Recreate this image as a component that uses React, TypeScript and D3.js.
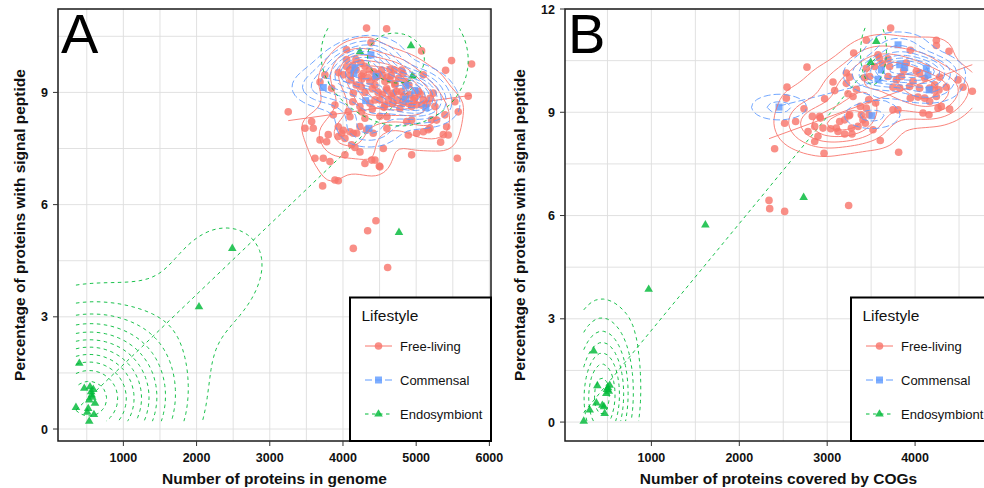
import React from "react";
import * as d3 from "d3";

type Pt = [number, number];

const lifestyles = ["Free-living", "Commensal", "Endosymbiont"];
const colours = ["#F8766D", "#619CFF", "#00BA38"];
const dashes = ["none", "7,3", "3.5,3.5"];

// ---------- Panel A: proteins in genome vs % signal peptide ----------
const aFreeLiving: Pt[] = [
  [4322, 10.72], [4596, 10.70], [4382, 10.33], [4049, 10.14], [5074, 10.11], [5483, 9.85], [5757, 9.76], [5402, 9.59],
  [4050, 9.88], [4177, 9.88], [4132, 9.73], [4245, 9.79], [3936, 9.53], [4095, 9.60], [4277, 9.51], [4255, 9.35],
  [4109, 9.33], [4345, 9.40], [4437, 9.38], [3686, 9.28], [3845, 9.11], [4141, 8.98], [4132, 8.75], [4437, 8.80],
  [5097, 9.47], [4642, 9.62], [4801, 9.60], [4528, 9.60], [4573, 9.29], [4710, 9.24], [4600, 9.06], [4733, 9.02],
  [4960, 8.80], [5188, 8.84], [5233, 8.98], [5711, 8.90], [5529, 8.75],
  [4573, 8.66], [4778, 8.57], [4938, 8.62], [5075, 8.66], [5256, 8.62], [5575, 8.48], [4600, 8.35], [4870, 8.22],
  [4938, 8.26], [5279, 8.26], [5188, 8.04], [5097, 7.95], [5006, 7.91], [4892, 7.86], [5416, 8.08], [5438, 7.86],
  [4600, 8.04], [5334, 7.67], [4551, 7.50], [4938, 7.33], [5562, 7.24], [4505, 7.01],
  [3252, 8.48], [3572, 8.22], [3481, 8.04], [3594, 8.04], [3890, 8.66], [3867, 8.40], [4095, 8.35], [4255, 8.48],
  [3936, 8.08], [4004, 7.99], [4095, 7.95], [3981, 7.91], [4187, 7.91], [3686, 7.73], [3777, 7.68], [3936, 7.82],
  [4027, 7.77], [4232, 7.41], [3617, 7.24], [3731, 7.24], [3822, 7.15], [4027, 7.33], [4300, 7.10], [4392, 7.19],
  [3890, 6.66], [3936, 6.64], [3722, 6.50], [4437, 7.19], [4496, 7.03],
  [4049, 9.69], [4004, 9.47], [4254, 9.44], [4459, 9.43], [4368, 9.29], [4436, 9.20], [4641, 9.34], [4709, 9.20],
  [4596, 9.11], [4800, 9.02], [4687, 8.98], [4823, 8.89], [4914, 8.94], [5028, 9.02], [5096, 8.80], [5005, 8.67],
  [4618, 8.80], [4505, 8.80], [4368, 8.71], [4231, 8.62], [4072, 8.49], [4300, 8.31], [4505, 8.36], [5210, 8.27],
  [5392, 8.40], [5370, 7.87], [5165, 8.00], [4413, 7.91], [4322, 8.00], [4231, 8.09], [4140, 7.91], [3799, 7.87],
  [3753, 9.47], [4163, 7.53], [4117, 7.60],
  // overplotted core
  [4420, 9.55], [4480, 9.50], [4540, 9.45], [4600, 9.40], [4660, 9.45], [4760, 9.38], [4850, 9.30], [4400, 9.10],
  [4480, 9.00], [4540, 8.95], [4660, 8.90], [4740, 8.80], [4820, 8.72], [4900, 8.70], [4980, 8.85], [5050, 8.95],
  [4300, 9.00], [4250, 9.15], [4180, 9.20], [4100, 9.45], [4180, 9.60], [4300, 9.70], [4360, 9.60], [4680, 8.70],
  [4560, 8.60], [4400, 8.55], [4700, 9.60], [4900, 9.20], [5150, 8.70], [4820, 9.50],
  [4450, 5.57], [4337, 5.30], [4141, 4.83], [4610, 4.32],
];
const aCommensal: Pt[] = [
  [4382, 10.0], [4150, 9.51], [4164, 9.66], [4451, 9.43], [3731, 9.13], [4856, 9.17], [4983, 9.05], [4310, 8.78],
  [4856, 8.82], [5133, 8.59], [4355, 8.04],
];
const aEndosymbiont: Pt[] = [
  [4232, 10.09], [4929, 10.25], [4948, 9.44], [4765, 5.26], [2488, 4.83], [2033, 3.27], [398, 1.76], [352, 0.58],
  [466, 1.09], [544, 1.13], [589, 1.06], [534, 0.78], [612, 0.69], [507, 0.45], [598, 0.39], [534, 0.21],
  [567, 0.91], [560, 1.0], [520, 0.55], [575, 0.85],
];

// ---------- Panel B: proteins covered by COGs vs % signal peptide ----------
const bFreeLiving: Pt[] = [
  [2770, 10.31], [2543, 9.73], [2535, 9.41], [2736, 9.10], [2516, 8.68], [2641, 8.73], [2402, 7.94], [2964, 7.81],
  [2338, 6.44], [2346, 6.20], [2516, 6.12], [3244, 6.29], [3604, 8.18], [3813, 7.84], [3722, 11.45], [3445, 11.09],
  [3301, 10.72], [3218, 10.14], [3256, 10.02], [3066, 9.88], [3085, 9.63], [2971, 9.39], [3237, 9.54], [3332, 9.67],
  [3294, 9.46], [3377, 9.17], [3445, 9.12], [3388, 8.93], [3521, 8.49], [3434, 8.68], [3351, 8.59], [3275, 8.54],
  [3199, 8.78], [3248, 8.90], [3142, 8.73], [3104, 8.54], [3040, 8.52], [2952, 8.54], [2858, 8.59], [2922, 8.83],
  [2831, 8.88], [2782, 8.44], [2895, 8.30], [2858, 8.15], [3199, 8.37], [3282, 8.37], [3407, 8.78], [3475, 8.93],
  [3748, 9.07], [3805, 9.07], [3551, 9.27], [3472, 9.36], [3483, 10.04], [3597, 10.57], [3692, 10.55], [3627, 10.41],
  [3578, 10.67], [3711, 10.33], [3540, 10.33], [3445, 10.28], [3426, 10.0], [3692, 10.04], [3787, 9.94], [3844, 10.04],
  [3870, 10.22], [3900, 10.43], [3946, 10.80], [3748, 9.73], [3825, 9.70], [3938, 9.75], [4014, 10.19], [4052, 10.14],
  [4109, 9.99], [3976, 9.90], [4052, 9.70], [4166, 9.70], [4223, 9.80], [4280, 10.02], [4204, 9.65], [4242, 9.46],
  [4272, 9.65], [4355, 9.73], [4488, 9.94], [4545, 9.73], [4651, 9.61], [4386, 10.77], [4242, 11.09], [4242, 10.94],
  [3946, 9.41], [4033, 9.44], [4109, 9.41], [4166, 9.31], [4261, 9.12], [4298, 9.17], [4090, 8.98], [4158, 8.93],
  [4393, 9.09], [2914, 8.88], [3123, 8.44], [3256, 8.93], [3218, 9.84],
];
const bCommensal: Pt[] = [
  [2452, 9.15], [3510, 8.90], [3806, 10.96], [3616, 10.23], [3578, 9.96], [3825, 10.38], [3882, 10.30], [4128, 10.28],
  [4147, 10.09], [4160, 9.65],
];
const bEndosymbiont: Pt[] = [
  [3559, 11.06], [3494, 10.45], [2732, 6.53], [1614, 5.73], [969, 3.86], [343, 2.07], [385, 1.06], [525, 1.07],
  [506, 1.0], [487, 0.83], [374, 0.56], [442, 0.49], [468, 0.25], [298, 0.35], [230, 0.03], [515, 0.9], [460, 0.45],
  [495, 0.95],
];

const aXTicks = [1000, 2000, 3000, 4000, 5000, 6000];
const aXMinor = [500, 1500, 2500, 3500, 4500, 5500];
const aYTicks = [0, 3, 6, 9];
const aYMinor = [1.5, 4.5, 7.5, 10.5];
const bXTicks = [1000, 2000, 3000, 4000];
const bXMinor = [500, 1500, 2500, 3500, 4500];
const bYTicks = [0, 3, 6, 9, 12];
const bYMinor = [1.5, 4.5, 7.5, 10.5];

// ---------- density helpers (MASS::kde2d + pretty, as ggplot2 does) ----------
function bwNrd(v: number[]) {
  const q1 = d3.quantile(v, 0.25)!, q3 = d3.quantile(v, 0.75)!;
  const h = (q3 - q1) / 1.34;
  return 4 * 1.06 * Math.min(d3.deviation(v)!, h) * Math.pow(v.length, -0.2);
}

function rPretty(lo: number, hi: number, ndiv = 10) {
  const h = 1.5, h5 = 0.5 + 1.5 * h;
  const cell = (hi - lo) / ndiv;
  const U = Math.pow(10, Math.floor(Math.log10(cell)));
  let unit = U;
  if (2 * U - cell < h * (cell - unit)) {
    unit = 2 * U;
    if (5 * U - cell < h5 * (cell - unit)) {
      unit = 5 * U;
      if (10 * U - cell < h * (cell - unit)) unit = 10 * U;
    }
  }
  const ns = Math.floor(lo / unit + 1e-7), nu = Math.ceil(hi / unit - 1e-7);
  return d3.range(ns, nu + 1).map((k) => k * unit);
}

function isolines(z: number[][], gx: number[], gy: number[], level: number): Pt[][] {
  const n = gx.length, m = gy.length;
  const pos = new Map<string, Pt>();
  const adj = new Map<string, string[]>();
  const link = (a: string, b: string) => {
    if (!adj.has(a)) adj.set(a, []);
    if (!adj.has(b)) adj.set(b, []);
    adj.get(a)!.push(b);
    adj.get(b)!.push(a);
  };
  const hEdge = (i: number, j: number) => {
    const k = `h${i}_${j}`;
    if (!pos.has(k)) {
      const t = (level - z[i][j]) / (z[i + 1][j] - z[i][j]);
      pos.set(k, [gx[i] + t * (gx[i + 1] - gx[i]), gy[j]]);
    }
    return k;
  };
  const vEdge = (i: number, j: number) => {
    const k = `v${i}_${j}`;
    if (!pos.has(k)) {
      const t = (level - z[i][j]) / (z[i][j + 1] - z[i][j]);
      pos.set(k, [gx[i], gy[j] + t * (gy[j + 1] - gy[j])]);
    }
    return k;
  };
  for (let i = 0; i < n - 1; i++) {
    for (let j = 0; j < m - 1; j++) {
      const a = z[i][j] >= level, b = z[i + 1][j] >= level, c = z[i + 1][j + 1] >= level, d = z[i][j + 1] >= level;
      if (a === b && b === c && c === d) continue;
      const B = a !== b ? hEdge(i, j) : null;
      const R = b !== c ? vEdge(i + 1, j) : null;
      const T = d !== c ? hEdge(i, j + 1) : null;
      const L = a !== d ? vEdge(i, j) : null;
      const crossed = [B, R, T, L].filter((e) => e !== null) as string[];
      if (crossed.length === 2) link(crossed[0], crossed[1]);
      else if (crossed.length === 4) {
        const center = (z[i][j] + z[i + 1][j] + z[i + 1][j + 1] + z[i][j + 1]) / 4 >= level;
        if (center === a) { link(B!, R!); link(L!, T!); }
        else { link(B!, L!); link(R!, T!); }
      }
    }
  }
  const used = new Set<string>();
  const lines: Pt[][] = [];
  const walk = (start: string) => {
    const line: Pt[] = [pos.get(start)!];
    used.add(start);
    let cur = start;
    for (;;) {
      const nx = adj.get(cur)!.find((k) => !used.has(k));
      if (!nx) break;
      used.add(nx);
      line.push(pos.get(nx)!);
      cur = nx;
    }
    return line;
  };
  for (const [k, nb] of adj) if (nb.length === 1 && !used.has(k)) lines.push(walk(k));
  for (const [k] of adj) if (!used.has(k)) { const l = walk(k); l.push(l[0]); lines.push(l); }
  return lines;
}

type Grid = { z: number[][]; gx: number[]; gy: number[]; zmin: number; zmax: number };

// kde2d on a 100x100 grid spanning the panel's data range
function kde2d(pts: Pt[], xr: [number, number], yr: [number, number]): Grid {
  const n = 100;
  const xs = pts.map((p) => p[0]), ys = pts.map((p) => p[1]);
  const hx = bwNrd(xs) / 4, hy = bwNrd(ys) / 4;
  const gx = d3.range(n).map((i) => xr[0] + ((xr[1] - xr[0]) * i) / (n - 1));
  const gy = d3.range(n).map((j) => yr[0] + ((yr[1] - yr[0]) * j) / (n - 1));
  const phi = (u: number) => Math.exp(-0.5 * u * u) / Math.sqrt(2 * Math.PI);
  const ax = gx.map((g) => xs.map((v) => phi((g - v) / hx)));
  const ay = gy.map((g) => ys.map((v) => phi((g - v) / hy)));
  const z: number[][] = [];
  let zmin = Infinity, zmax = -Infinity;
  for (let i = 0; i < n; i++) {
    z[i] = [];
    for (let j = 0; j < n; j++) {
      let s = 0;
      const ai = ax[i], aj = ay[j];
      for (let k = 0; k < xs.length; k++) s += ai[k] * aj[k];
      s /= xs.length * hx * hy;
      z[i][j] = s;
      if (s < zmin) zmin = s;
      if (s > zmax) zmax = s;
    }
  }
  return { z, gx, gy, zmin, zmax };
}

function panelContours(groups: Pt[][]): Pt[][][] {
  const all = groups.flat();
  const xr = d3.extent(all, (d) => d[0]) as [number, number];
  const yr = d3.extent(all, (d) => d[1]) as [number, number];
  return groups.map((gr) => {
    const g = kde2d(gr, xr, yr);
    const levels = rPretty(g.zmin, g.zmax, 10);
    const out: Pt[][] = [];
    for (const lv of levels) {
      if (lv <= g.zmin || lv >= g.zmax) continue;
      out.push(...isolines(g.z, g.gx, g.gy, lv));
    }
    return out;
  });
}

// least-squares line over the group's x range (geom_smooth, method = "lm")
function lmLine(pts: Pt[]): Pt[] {
  const mx = d3.mean(pts, (d) => d[0])!, my = d3.mean(pts, (d) => d[1])!;
  let sxy = 0, sxx = 0;
  for (const [px, py] of pts) { sxy += (px - mx) * (py - my); sxx += (px - mx) * (px - mx); }
  const b = sxy / sxx, a = my - b * mx;
  const [x0, x1] = d3.extent(pts, (d) => d[0]) as [number, number];
  return [[x0, a + b * x0], [x1, a + b * x1]];
}

// ---------- drawing ----------
const FONT = "'Liberation Sans', Arial, Helvetica, sans-serif";

function Marker({ kind, cx, cy, colour, opacity }: { kind: number; cx: number; cy: number; colour: string; opacity: number }) {
  if (kind === 0) return <circle cx={cx} cy={cy} r={3.8} fill={colour} fillOpacity={opacity} />;
  if (kind === 1) return <rect x={cx - 3.5} y={cy - 3.5} width={7} height={7} fill={colour} fillOpacity={opacity} />;
  return <path d={`M${cx},${cy - 4.8}L${cx + 4.3},${cy + 2.6}L${cx - 4.3},${cy + 2.6}Z`} fill={colour} fillOpacity={opacity} />;
}

type PanelProps = {
  id: string;
  letter: string;
  left: number; right: number; top: number; bottom: number;
  xDomain: [number, number]; yDomain: [number, number];
  xTicks: number[]; xMinor: number[]; yTicks: number[]; yMinor: number[];
  groups: Pt[][];
  xTitle: string; yTitle: string; yTitleX: number;
};

function Panel(p: PanelProps) {
  const x = d3.scaleLinear().domain(p.xDomain).range([p.left, p.right]);
  const y = d3.scaleLinear().domain(p.yDomain).range([p.bottom, p.top]);
  const contours = React.useMemo(() => panelContours(p.groups), [p.groups]);
  const fits = p.groups.map(lmLine);
  const line = d3.line<Pt>().x((d) => x(d[0])).y((d) => y(d[1]));
  const clip = `clip-${p.id}`;
  const legL = p.right - 141, legT = 297.5;
  const rows = [346, 380, 414];
  return (
    <g>
      <defs>
        <clipPath id={clip}>
          <rect x={p.left} y={p.top} width={p.right - p.left} height={p.bottom - p.top} />
        </clipPath>
      </defs>
      <rect x={p.left} y={p.top} width={p.right - p.left} height={p.bottom - p.top} fill="#fff" />
      <g>
        {p.xMinor.concat(p.xTicks).map((v, i) => (
          <line key={`gx${i}`} x1={x(v)} x2={x(v)} y1={p.top} y2={p.bottom} stroke="#dedede" strokeWidth={0.9} />
        ))}
        {p.yMinor.concat(p.yTicks).map((v, i) => (
          <line key={`gy${i}`} x1={p.left} x2={p.right} y1={y(v)} y2={y(v)} stroke="#dedede" strokeWidth={0.9} />
        ))}
      </g>
      <g clipPath={`url(#${clip})`}>
        {fits.map((f, gi) => (
          <path key={`lm${gi}`} d={line(f) || ""} fill="none" stroke={colours[gi]} strokeWidth={0.9} strokeDasharray={dashes[gi]} />
        ))}
        {p.groups.map((g, gi) =>
          g.map((d, i) => <Marker key={`m${gi}_${i}`} kind={gi} cx={x(d[0])} cy={y(d[1])} colour={colours[gi]} opacity={0.82} />)
        )}
        {contours.map((ls, gi) =>
          ls.map((l, i) => (
            <path key={`c${gi}_${i}`} d={line(l) || ""} fill="none" stroke={colours[gi]} strokeWidth={0.9}
              strokeDasharray={dashes[gi]} />
          ))
        )}
      </g>
      <rect x={p.left} y={p.top} width={p.right - p.left} height={p.bottom - p.top} fill="none" stroke="#1a1a1a" strokeWidth={1.5} />
      {p.yTicks.map((v) => (
        <g key={`yt${v}`}>
          <line x1={p.left - 5} x2={p.left} y1={y(v)} y2={y(v)} stroke="#333" strokeWidth={1} />
          <text x={p.left - 10} y={y(v) + 4.5} textAnchor="end" fontFamily={FONT} fontWeight="bold" fontSize={12.5} fill="#111">{v}</text>
        </g>
      ))}
      {p.xTicks.map((v) => (
        <g key={`xt${v}`}>
          <line x1={x(v)} x2={x(v)} y1={p.bottom} y2={p.bottom + 5} stroke="#333" strokeWidth={1} />
          <text x={x(v)} y={p.bottom + 20.5} textAnchor="middle" fontFamily={FONT} fontWeight="bold" fontSize={12.5} fill="#111">{v}</text>
        </g>
      ))}
      <text x={(p.left + p.right) / 2} y={484} textAnchor="middle" fontFamily={FONT} fontWeight="bold" fontSize={15.5} fill="#111">{p.xTitle}</text>
      <text transform={`translate(${p.yTitleX},${(p.top + p.bottom) / 2}) rotate(-90)`} textAnchor="middle" fontFamily={FONT} fontWeight="bold" fontSize={15.5} fill="#111">{p.yTitle}</text>
      <text x={p.left + 3} y={53} fontFamily={FONT} fontSize={56} fill="#000">{p.letter}</text>
      <rect x={legL} y={legT} width={141} height={p.bottom - legT} fill="#fff" stroke="#000" strokeWidth={2} />
      <text x={legL + 11.5} y={320.5} fontFamily={FONT} fontSize={15.5} fill="#111">Lifestyle</text>
      {lifestyles.map((name, i) => (
        <g key={name}>
          <line x1={legL + 15} x2={legL + 42} y1={rows[i]} y2={rows[i]} stroke={colours[i]} strokeWidth={1} strokeDasharray={dashes[i]} />
          <Marker kind={i} cx={legL + 28.5} cy={rows[i]} colour={colours[i]} opacity={0.82} />
          <text x={legL + 50} y={rows[i] + 4.6} fontFamily={FONT} fontSize={13} fill="#111">{name}</text>
        </g>
      ))}
    </g>
  );
}

const groupsA = [aFreeLiving, aCommensal, aEndosymbiont];
const groupsB = [bFreeLiving, bCommensal, bEndosymbiont];

export default function App() {
  return (
    <svg width={984} height={488} viewBox="0 0 984 488"
      style={{ position: "absolute", left: 0, top: 0, background: "#fff", display: "block" }}>
      <rect x={0} y={0} width={984} height={488} fill="#fff" />
      <Panel id="A" letter="A" left={58} right={491} top={9} bottom={441}
        xDomain={[107, 6022]} yDomain={[-0.32, 11.23]}
        xTicks={aXTicks} xMinor={aXMinor} yTicks={aYTicks} yMinor={aYMinor}
        groups={groupsA} xTitle="Number of proteins in genome"
        yTitle="Percentage of proteins with signal peptide" yTitleX={25} />
      <Panel id="B" letter="B" left={565} right={992} top={9} bottom={441}
        xDomain={[17, 4875]} yDomain={[-0.55, 12.0]}
        xTicks={bXTicks} xMinor={bXMinor} yTicks={bYTicks} yMinor={bYMinor}
        groups={groupsB} xTitle="Number of proteins covered by COGs"
        yTitle="Percentage of proteins with signal peptide" yTitleX={525} />
    </svg>
  );
}
